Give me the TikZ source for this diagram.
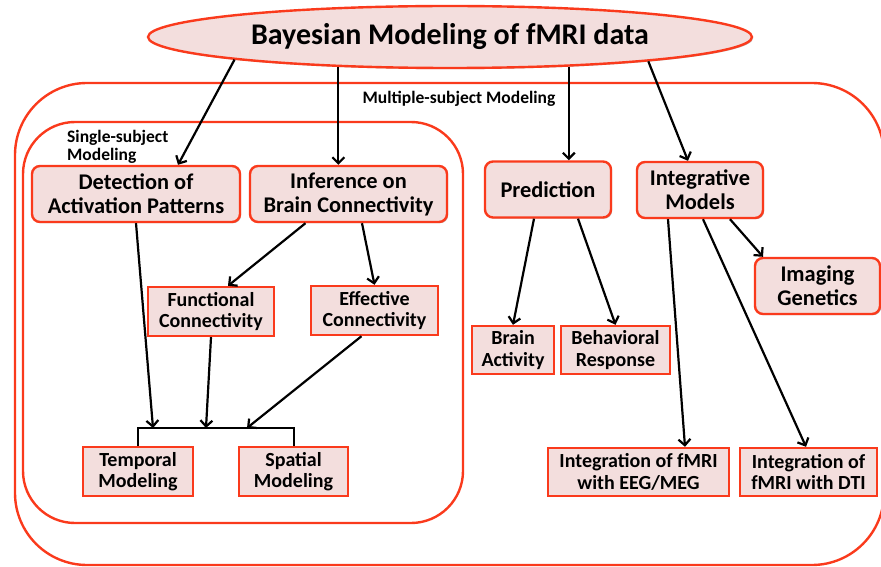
\documentclass[tikz,border=0pt]{standalone}
\usepackage{fontspec}
\setmainfont{Carlito}
\usetikzlibrary{arrows.meta,shapes.geometric,shadows,calc}
\definecolor{bred}{RGB}{250,58,28}
\definecolor{bfill}{RGB}{243,222,221}
\tikzset{
  redline/.style={draw=bred,line width=2.4pt},
  roundbox/.style={draw=bred,line width=2.4pt,fill=bfill,rounded corners=8pt,align=center,
    font=\fontsize{22.4}{24}\selectfont\bfseries,inner sep=0pt,
    drop shadow={shadow xshift=1.2pt,shadow yshift=-1.2pt,opacity=0.25,fill=black}},
  sqbox/.style={draw=bred,line width=2.4pt,fill=bfill,align=center,
    font=\fontsize{20}{21.5}\selectfont\bfseries,inner sep=0pt,
    drop shadow={shadow xshift=1.2pt,shadow yshift=-1.2pt,opacity=0.25,fill=black}},
  arr/.style={draw=black,line width=2.2pt,-{Straight Barb[length=6pt,width=12pt]}},
  lbl/.style={font=\fontsize{17.5}{18.5}\selectfont\bfseries,align=left,inner sep=0pt},
}
\begin{document}
\begin{tikzpicture}[x=1pt,y=-1pt]
\useasboundingbox (0,0) rectangle (881,567);
% containers
\draw[redline,rounded corners=72pt] (15,83) rectangle (884,565);
\draw[redline,rounded corners=52pt] (23,122) rectangle (463,523);
\node[lbl] (multi) at (459,99) {Multiple-subject Modeling};
\node[lbl,anchor=west] (single) at (67,147) {Single-subject\\Modeling};
% title
\node[ellipse,draw=bred,line width=2.4pt,fill=bfill,minimum width=604pt,minimum height=62pt,inner sep=0pt,
  font=\fontsize{30}{32}\selectfont\bfseries,
  drop shadow={shadow xshift=1.2pt,shadow yshift=-1.2pt,opacity=0.25,fill=black}] (title) at (450,37) {Bayesian Modeling of fMRI data};
% rounded nodes
\node[roundbox,minimum width=208pt,minimum height=56pt] (detect) at (136,194) {Detection of\\Activation Patterns};
\node[roundbox,minimum width=197pt,minimum height=56pt] (infer) at (348.5,194) {Inference on\\Brain Connectivity};
\node[roundbox,minimum width=126pt,minimum height=56pt] (pred) at (548,189.5) {Prediction};
\node[roundbox,minimum width=126pt,minimum height=56pt] (integ) at (700,190) {Integrative\\Models};
\node[roundbox,minimum width=125pt,minimum height=56pt] (gen) at (817.5,286) {Imaging\\Genetics};
% square nodes
\node[sqbox,minimum width=126pt,minimum height=49pt] (func) at (211,311.5) {Functional\\Connectivity};
\node[sqbox,minimum width=127pt,minimum height=49pt] (eff) at (374.5,310.5) {Effective\\Connectivity};
\node[sqbox,minimum width=110pt,minimum height=49pt] (temp) at (138,471.5) {Temporal\\Modeling};
\node[sqbox,minimum width=109pt,minimum height=49pt] (spat) at (293.5,471.5) {Spatial\\Modeling};
\node[sqbox,minimum width=82pt,minimum height=48pt] (brain) at (513,350) {Brain\\Activity};
\node[sqbox,minimum width=109pt,minimum height=48pt] (behav) at (615.5,350) {Behavioral\\Response};
\node[sqbox,minimum width=181pt,minimum height=48pt] (eeg) at (638.5,472) {Integration of fMRI\\with EEG/MEG};
\node[sqbox,minimum width=137pt,minimum height=48pt] (dti) at (808.5,472) {Integration of\\fMRI with DTI};
% bracket
\coordinate (bL) at (138,428);
\coordinate (bR) at (294,428);
\coordinate (tA) at (153,428);
\coordinate (tB) at (206,428);
\coordinate (tC) at (247,428);
\draw[black,line width=2.2pt] (temp.north -| bL) -- (bL) -- (bR) -- (spat.north -| bR);
% arrows from title
\draw[arr] (title.186) -- ([xshift=42pt]detect.north);
\draw[arr] (title.195.5) -- (title.195.5 |- infer.north);
\draw[arr] (title.346.4) -- (title.346.4 |- pred.north);
\draw[arr] (title.353.3) -- ([xshift=-12pt]integ.north);
% single subject
\draw[arr] (detect.south) -- (tA);
\draw[arr] ([xshift=-43pt]infer.south) -- ([xshift=17pt]func.north);
\draw[arr] ([xshift=13.5pt]infer.south) -- (eff.north);
\draw[arr] (func.south) -- (tB);
\draw[arr] ([xshift=-13pt]eff.south) -- (tC);
% prediction
\draw[arr] ([xshift=-14pt]pred.south) -- (brain.north);
\draw[arr] ([xshift=30pt]pred.south) -- (behav.north);
% integrative
\draw[arr] ([xshift=-32pt]integ.south) -- ([xshift=46.5pt]eeg.north);
\draw[arr] ([xshift=3pt]integ.south) -- ([xshift=-2.5pt]dti.north);
\draw[arr] ([xshift=30pt]integ.south) -- ([xshift=-54.5pt]gen.north);
\end{tikzpicture}
\end{document}
